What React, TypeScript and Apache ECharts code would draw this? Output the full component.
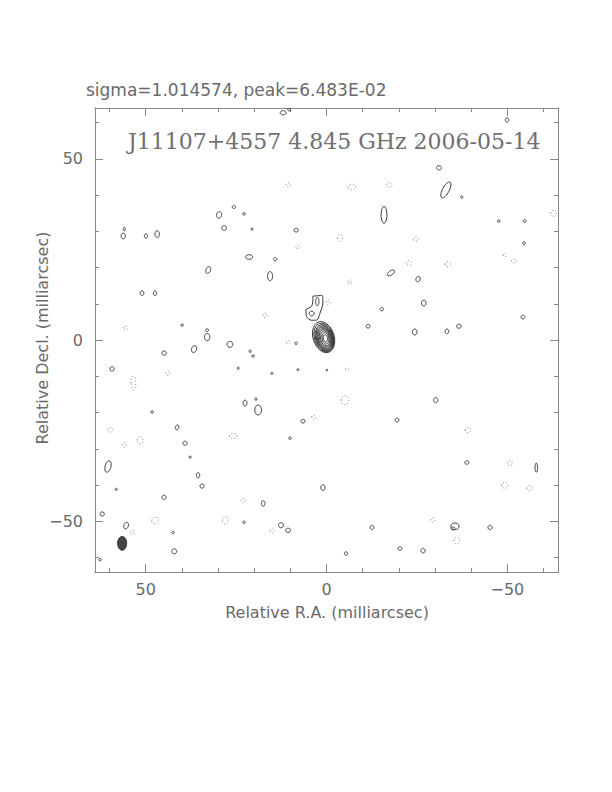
import React, { useEffect, useRef } from "react";
import * as echarts from "echarts";

const AXIS_MIN = -64;
const AXIS_MAX = 64;
const majorTicks = [-50, 0, 50];
const minorTicks = [-60, -40, -30, -20, -10, 10, 20, 30, 40, 60];
const tickLabels = [-50, 0, 50];

const headerText = "sigma=1.014574, peak=6.483E-02";
const titleText = "J11107+4557 4.845 GHz 2006-05-14";
const xTitle = "Relative R.A. (milliarcsec)";
const yTitle = "Relative Decl. (milliarcsec)";

// core contours: [x, y, semiX, semiY, rotationDeg] (mas)
const coreContours: number[][] = [
  [0.8, 0.8, 2.9, 4.4, -18],
  [0.7, 0.7, 2.62, 4.05, -18],
  [0.6, 0.6, 2.4, 3.72, -17],
  [0.55, 0.55, 2.2, 3.42, -16],
  [0.5, 0.5, 2.0, 3.12, -15],
  [0.45, 0.45, 1.78, 2.8, -15],
  [0.4, 0.45, 1.52, 2.45, -14],
  [0.35, 0.45, 1.24, 2.05, -12],
  [0.3, 0.45, 0.92, 1.58, -10],
  [0.3, 0.45, 0.58, 1.02, -10],
];

// jet component outline (mas)
const jetOutline: number[][] = [
  [3.75, 12.1], [1.2, 12.3], [1.0, 10.2], [1.7, 7.7], [2.7, 5.5],
  [4.2, 5.45], [5.5, 6.45], [5.7, 8.3], [4.2, 9.2], [3.8, 10.5],
];

// positive contours: [x, y, semiX, semiY, rotationDeg]
const positiveBlobs: number[][] = [
  [4.09, 7.32, 0.6, 0.55, 0], [2.54, 10.6, 0.4, 1.0, 0],
  [-33.0, 41.4, 0.8, 2.1, 28], [-15.9, 34.5, 0.7, 2.0, 0], [12.0, 62.7, 0.7, 0.5, 0],
  [10.3, 63.6, 0.35, 0.35, 0], [-49.9, 60.7, 0.4, 0.5, 0], [-31.1, 47.5, 0.6, 0.5, 0],
  [56.2, 28.7, 0.5, 0.7, 0], [55.9, 30.6, 0.25, 0.4, 0], [49.9, 28.7, 0.4, 0.5, 0],
  [46.8, 29.2, 0.55, 0.8, 0], [29.7, 34.5, 0.6, 0.8, 10], [25.6, 36.7, 0.4, 0.35, 0],
  [22.8, 34.8, 0.3, 0.3, 0], [28.3, 30.9, 0.55, 0.6, 0], [20.6, 30.6, 0.2, 0.3, 0],
  [8.4, 30.3, 0.5, 0.45, 0], [21.4, 22.9, 0.85, 0.55, 0], [14.2, 22.3, 0.4, 0.4, 0],
  [32.7, 19.3, 0.55, 0.85, 20], [15.6, 17.6, 0.6, 1.1, 0], [51.0, 12.9, 0.45, 0.55, 0],
  [47.4, 12.9, 0.4, 0.55, 0], [33.0, 0.8, 0.65, 0.85, 0], [33.0, 2.7, 0.35, 0.35, 0],
  [39.9, 4.1, 0.25, 0.3, 0], [-37.4, 39.4, 0.25, 0.3, 0], [-47.6, 32.8, 0.3, 0.3, 0],
  [-54.8, 32.8, 0.35, 0.35, 0], [-54.6, 26.7, 0.3, 0.35, 0], [-17.8, 18.5, 0.5, 1.0, 55],
  [-25.3, 16.8, 0.5, 0.65, 20], [-26.9, 10.2, 0.55, 0.7, 0], [-15.3, 8.5, 0.4, 0.4, 0],
  [-11.5, 3.8, 0.45, 0.45, 0], [-24.4, 2.2, 0.55, 0.7, 0], [-36.6, 3.8, 0.55, 0.5, 0],
  [-33.3, 2.4, 0.45, 0.55, 0], [-54.3, 6.3, 0.45, 0.45, 0], [59.3, -8.0, 0.5, 0.55, 0],
  [44.9, -3.6, 0.55, 0.5, 20], [36.6, -2.5, 0.6, 0.85, 20], [26.7, -1.2, 0.7, 0.7, 25],
  [21.1, -3.1, 0.25, 0.3, 0], [20.3, -4.4, 0.25, 0.3, 0], [24.4, -7.8, 0.2, 0.3, 0],
  [15.1, -9.2, 0.25, 0.25, 0], [7.9, -8.2, 0.25, 0.25, 0], [22.5, -17.4, 0.45, 0.7, 0],
  [18.9, -19.3, 0.8, 1.2, 0], [19.5, -16.3, 0.25, 0.3, 0], [48.2, -19.9, 0.3, 0.3, 0],
  [41.3, -24.1, 0.4, 0.6, 15], [39.1, -28.5, 0.5, 0.5, 0], [37.7, -32.3, 0.25, 0.25, 0],
  [6.5, -22.4, 0.5, 0.45, 0], [10.1, -27.1, 0.3, 0.3, 0], [60.4, -34.9, 0.7, 1.4, 15],
  [35.5, -37.3, 0.4, 0.65, 0], [34.4, -40.3, 0.5, 0.5, 0], [58.1, -41.2, 0.25, 0.25, 0],
  [44.9, -43.4, 0.5, 0.5, 0], [17.5, -45.1, 0.45, 0.65, 0], [1.0, -40.7, 0.5, 0.7, 0],
  [62.0, -48.0, 0.5, 0.5, 0], [55.4, -51.2, 0.55, 0.8, 20], [42.4, -53.1, 0.3, 0.3, 0],
  [22.8, -50.3, 0.3, 0.3, 0], [12.6, -51.1, 0.6, 0.6, 0], [10.6, -52.5, 0.6, 0.5, 0],
  [42.1, -58.3, 0.6, 0.6, 0], [62.6, -60.6, 0.3, 0.3, 0], [-30.2, -16.6, 0.5, 0.6, 0],
  [-19.5, -22.1, 0.45, 0.45, 0], [-38.8, -33.8, 0.5, 0.4, 0], [-35.5, -51.4, 1.0, 0.8, 0],
  [-35.0, -52.0, 0.45, 0.35, 0], [-45.2, -51.7, 0.5, 0.5, 0], [-26.7, -58.1, 0.5, 0.55, 0],
  [-20.3, -57.5, 0.45, 0.45, 0], [-12.6, -51.7, 0.45, 0.5, 0], [-5.4, -58.9, 0.4, 0.4, 0],
  [-58.0, -35.2, 0.3, 1.1, 0], [8.4, -0.9, 0.3, 0.3, 0], [-0.1, -8.3, 0.2, 0.2, 0],
];

// negative contours: [x, y, semiX, semiY]
const negativeBlobs: number[][] = [
  [-7.0, 42.2, 0.9, 0.7], [-17.3, 42.8, 0.7, 0.5], [-3.7, 28.1, 0.6, 0.9], [-24.7, 27.8, 0.6, 0.5],
  [-22.8, 21.2, 0.6, 0.6], [-33.6, 20.9, 0.7, 0.6], [-51.8, 21.8, 0.6, 0.4], [-49.3, 23.4, 0.4, 0.4],
  [-6.5, 16.0, 0.4, 0.5], [-62.8, 35.0, 0.7, 0.8], [10.6, 42.8, 0.5, 0.5], [7.9, 25.6, 0.5, 0.4],
  [17.0, 6.8, 0.5, 0.5], [55.6, 3.3, 0.5, 0.4], [53.4, -11.9, 0.6, 1.6], [43.8, -9.2, 0.5, 0.5],
  [59.8, -24.8, 0.6, 0.6], [51.5, -27.6, 0.7, 0.9], [55.9, -29.0, 0.5, 0.5], [25.8, -26.5, 0.9, 0.6],
  [23.0, -44.3, 0.5, 0.5], [47.4, -49.8, 0.8, 0.8], [28.0, -49.8, 0.7, 0.9], [15.0, -52.6, 0.5, 0.6],
  [3.5, -21.3, 0.5, 0.5], [-5.1, -16.6, 0.9, 1.1], [-39.1, -24.9, 0.7, 0.6], [-50.7, -34.0, 0.6, 0.6],
  [-49.3, -40.1, 0.8, 0.7], [-56.2, -40.9, 0.7, 0.6], [-36.0, -55.3, 0.7, 0.8], [-29.4, -49.7, 0.5, 0.5],
  [-0.4, 10.4, 0.4, 0.6], [10.6, -0.6, 0.5, 0.4], [-5.7, -8.1, 0.4, 0.4], [53.7, -53.1, 0.5, 0.4],
  [-25.6, 54.3, 0.5, 0.7],
];

// restoring beam: [x, y, semiX, semiY, rotationDeg]
const beam: number[][] = [[56.5, -56.1, 1.25, 1.9, 0]];

const LABEL_FONT = '"DejaVu Sans", sans-serif';
const TEXT_COLOR = "#6a6a6a";
const FRAME_COLOR = "#888";
const NOISE_SCALE = 1.15;

function ellipsePoints(api: any, cx: number, cy: number, a: number, b: number, deg: number) {
  const th = (deg * Math.PI) / 180;
  const c = Math.cos(th);
  const s = Math.sin(th);
  const pts: number[][] = [];
  const n = 36;
  for (let k = 0; k < n; k++) {
    const t = (2 * Math.PI * k) / n;
    const dx = a * Math.cos(t);
    const dy = b * Math.sin(t);
    pts.push(api.coord([cx + dx * c - dy * s, cy + dx * s + dy * c]));
  }
  return pts;
}

function ellipseSeries(name: string, data: number[][], style: any, z: number, scale: number) {
  return {
    type: "custom",
    name,
    xAxisIndex: 0,
    yAxisIndex: 0,
    clip: true,
    z,
    data,
    encode: { x: 0, y: 1 },
    renderItem: (params: any, api: any) => {
      const pts = ellipsePoints(
        api,
        api.value(0),
        api.value(1),
        api.value(2) * scale,
        api.value(3) * scale,
        data[params.dataIndex][4] || 0
      );
      return { type: "polygon", shape: { points: pts }, style: { ...style } };
    },
  };
}

const fmt = (v: number) => (v < 0 ? "\u2212" + Math.abs(v) : String(v));

function xAxis(position: string, ticks: number[], len: number, labels: boolean) {
  return {
    type: "value",
    gridIndex: 0,
    position,
    min: AXIS_MIN,
    max: AXIS_MAX,
    inverse: true,
    axisLine: { show: true, onZero: false, lineStyle: { color: FRAME_COLOR, width: 1 } },
    axisTick: { show: true, inside: true, length: len, customValues: ticks, lineStyle: { color: FRAME_COLOR, width: 1 } },
    axisLabel: {
      show: labels,
      customValues: tickLabels,
      formatter: fmt,
      color: TEXT_COLOR,
      fontFamily: LABEL_FONT,
      fontSize: 16,
      margin: 9,
    },
    splitLine: { show: false },
  };
}

function yAxis(position: string, ticks: number[], len: number, labels: boolean) {
  return {
    type: "value",
    gridIndex: 0,
    position,
    min: AXIS_MIN,
    max: AXIS_MAX,
    axisLine: { show: true, onZero: false, lineStyle: { color: FRAME_COLOR, width: 1 } },
    axisTick: { show: true, inside: true, length: len, customValues: ticks, lineStyle: { color: FRAME_COLOR, width: 1 } },
    axisLabel: {
      show: labels,
      customValues: tickLabels,
      formatter: fmt,
      color: TEXT_COLOR,
      fontFamily: LABEL_FONT,
      fontSize: 16,
      margin: 12,
    },
    splitLine: { show: false },
  };
}

export default function App() {
  const ref = useRef<HTMLDivElement>(null);
  useEffect(() => {
    if (!ref.current) return;
    const chart = echarts.init(ref.current, null, { renderer: "svg" });
    const contourStyle = { fill: "none", stroke: "#333", lineWidth: 1 };
    chart.setOption({
      animation: false,
      backgroundColor: "#fff",
      grid: { left: 95, top: 108, width: 463, height: 464, containLabel: false, outerBoundsMode: "none" },
      xAxis: [
        xAxis("bottom", majorTicks, 8, true),
        xAxis("bottom", minorTicks, 4, false),
        xAxis("top", majorTicks, 8, false),
        xAxis("top", minorTicks, 4, false),
      ],
      yAxis: [
        yAxis("left", majorTicks, 8, true),
        yAxis("left", minorTicks, 4, false),
        yAxis("right", majorTicks, 8, false),
        yAxis("right", minorTicks, 4, false),
      ],
      graphic: [
        {
          type: "text",
          x: 86,
          y: 90,
          style: { text: headerText, font: `17px ${LABEL_FONT}`, fill: TEXT_COLOR, align: "left", verticalAlign: "middle" },
        },
        {
          type: "text",
          x: 128,
          y: 141,
          z: 10,
          style: { text: titleText, font: `22px "DejaVu Serif", serif`, fill: "#707070", align: "left", verticalAlign: "middle" },
        },
        {
          type: "text",
          x: 327,
          y: 612,
          style: { text: xTitle, font: `16px ${LABEL_FONT}`, fill: TEXT_COLOR, align: "center", verticalAlign: "middle" },
        },
        {
          type: "text",
          x: 42,
          y: 338,
          rotation: Math.PI / 2,
          style: { text: yTitle, font: `16px ${LABEL_FONT}`, fill: TEXT_COLOR, align: "center", verticalAlign: "middle" },
        },
      ],
      series: [
        ellipseSeries("negative", negativeBlobs, { fill: "none", stroke: "#777", lineWidth: 1, lineDash: [1, 2.2] }, 2, NOISE_SCALE),
        ellipseSeries("positive", positiveBlobs, contourStyle, 3, NOISE_SCALE),
        ellipseSeries("core", coreContours, { fill: "none", stroke: "#333", lineWidth: 1 }, 4, 1),
        ellipseSeries("beam", beam, { fill: "#444", stroke: "#333", lineWidth: 1 }, 4, 1),
        {
          type: "line",
          name: "jet",
          xAxisIndex: 0,
          yAxisIndex: 0,
          data: [...jetOutline, jetOutline[0]],
          showSymbol: false,
          symbol: "none",
          smooth: 0.3,
          lineStyle: { color: "#333", width: 1 },
          z: 4,
        },
      ],
    });
    return () => chart.dispose();
  }, []);
  return (
    <div
      ref={ref}
      style={{ position: "absolute", left: 0, top: 0, width: 612, height: 792 }}
    />
  );
}
